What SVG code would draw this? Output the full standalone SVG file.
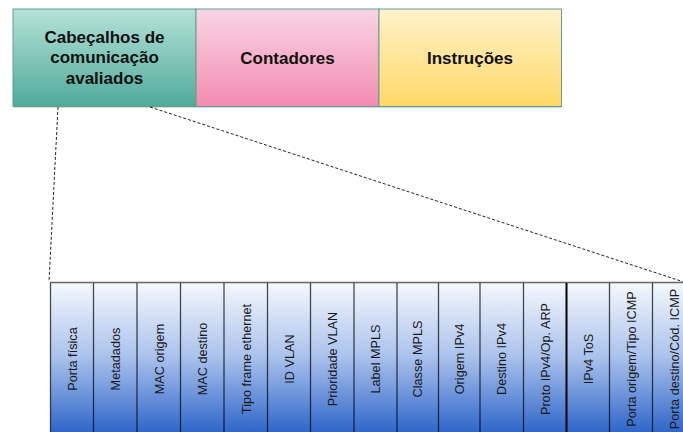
<svg xmlns="http://www.w3.org/2000/svg" width="683" height="432" viewBox="0 0 683 432">
<defs>
<linearGradient id="gTeal" x1="0" y1="0" x2="0" y2="1"><stop offset="0" stop-color="#b5e2da"/><stop offset="1" stop-color="#50aa98"/></linearGradient>
<linearGradient id="gPink" x1="0" y1="0" x2="0" y2="1"><stop offset="0" stop-color="#f9d6e4"/><stop offset="1" stop-color="#f28bb0"/></linearGradient>
<linearGradient id="gYellow" x1="0" y1="0" x2="0" y2="1"><stop offset="0" stop-color="#fff2cc"/><stop offset="1" stop-color="#ffd966"/></linearGradient>
<linearGradient id="gBlue" gradientUnits="userSpaceOnUse" x1="0" y1="283" x2="0" y2="432"><stop offset="0" stop-color="#f5f8fd"/><stop offset="0.5" stop-color="#a9c1ec"/><stop offset="1" stop-color="#2f66c9"/></linearGradient>
<style>
.top{stroke:#5e9f90;stroke-width:1}
.tl{font-family:"Liberation Sans",Arial,sans-serif;font-weight:bold;font-size:17px;fill:#111;text-anchor:middle}
.cl{font-family:"Liberation Sans",Arial,sans-serif;font-size:12.7px;fill:#1a1a1a;text-anchor:middle}
.div{stroke:#000;stroke-opacity:0.7;stroke-width:1.3}
.dash{stroke:#222;stroke-width:1;stroke-dasharray:3 2;fill:none}
</style>
</defs>
<rect width="683" height="432" fill="#fff"/>
<rect x="14" y="10" width="548" height="98" fill="#000" opacity="0.15"/>
<g id="node-cabecalhos">
<rect class="top" x="13" y="9" width="183" height="97.5" fill="url(#gTeal)"/>
<text class="tl" x="104.5" y="42.5">Cabeçalhos de</text>
<text class="tl" x="104.5" y="63.2">comunicação</text>
<text class="tl" x="104.5" y="84">avaliados</text>
</g>
<g id="node-contadores">
<rect class="top" x="196" y="9" width="183" height="97.5" fill="url(#gPink)"/>
<text class="tl" x="287.5" y="64">Contadores</text>
</g>
<g id="node-instrucoes">
<rect class="top" x="379" y="9" width="182.5" height="97.5" fill="url(#gYellow)"/>
<text class="tl" x="470" y="64">Instruções</text>
</g>
<g id="connectors">
<line class="dash" x1="58" y1="107" x2="49" y2="282"/>
<line class="dash" x1="150" y1="107" x2="690" y2="284"/>
</g>
<g id="node-campos">
<rect x="50.5" y="282.5" width="650" height="160" fill="url(#gBlue)"/>
<line x1="50" y1="282.5" x2="683" y2="282.5" stroke="#666" stroke-width="1.5"/>
<line class="div" x1="50.5" y1="283" x2="50.5" y2="432"/>
<line class="div" x1="93.5" y1="283" x2="93.5" y2="432"/>
<line class="div" x1="137" y1="283" x2="137" y2="432"/>
<line class="div" x1="180.5" y1="283" x2="180.5" y2="432"/>
<line class="div" x1="224" y1="283" x2="224" y2="432"/>
<line class="div" x1="267.5" y1="283" x2="267.5" y2="432"/>
<line class="div" x1="310.5" y1="283" x2="310.5" y2="432"/>
<line class="div" x1="354" y1="283" x2="354" y2="432"/>
<line class="div" x1="397" y1="283" x2="397" y2="432"/>
<line class="div" x1="438.5" y1="283" x2="438.5" y2="432"/>
<line class="div" x1="480" y1="283" x2="480" y2="432"/>
<line class="div" x1="523.5" y1="283" x2="523.5" y2="432"/>
<line x1="566.5" y1="283" x2="566.5" y2="432" stroke="#000" stroke-width="2"/>
<line class="div" x1="609.5" y1="283" x2="609.5" y2="432"/>
<line class="div" x1="652.5" y1="283" x2="652.5" y2="432"/>
<g class="cl">
<text transform="translate(76.6 359) rotate(-90)">Porta física</text>
<text transform="translate(120 359) rotate(-90)">Metadados</text>
<text transform="translate(163.5 359) rotate(-90)">MAC origem</text>
<text transform="translate(207 359) rotate(-90)">MAC destino</text>
<text transform="translate(250.5 359) rotate(-90)">Tipo frame ethernet</text>
<text transform="translate(293.5 359) rotate(-90)">ID VLAN</text>
<text transform="translate(336.8 359) rotate(-90)">Prioridade VLAN</text>
<text transform="translate(380 359) rotate(-90)">Label MPLS</text>
<text transform="translate(422.3 359) rotate(-90)">Classe MPLS</text>
<text transform="translate(463.8 359) rotate(-90)">Origem IPv4</text>
<text transform="translate(506.3 359) rotate(-90)">Destino IPv4</text>
<text transform="translate(549.5 359) rotate(-90)">Proto IPv4/Op. ARP</text>
<text transform="translate(592.5 359) rotate(-90)">IPv4 ToS</text>
<text transform="translate(635.5 359) rotate(-90)">Porta origem/Tipo ICMP</text>
<text transform="translate(678.5 359) rotate(-90)">Porta destino/Cód. ICMP</text>
</g>
</g>
</svg>
